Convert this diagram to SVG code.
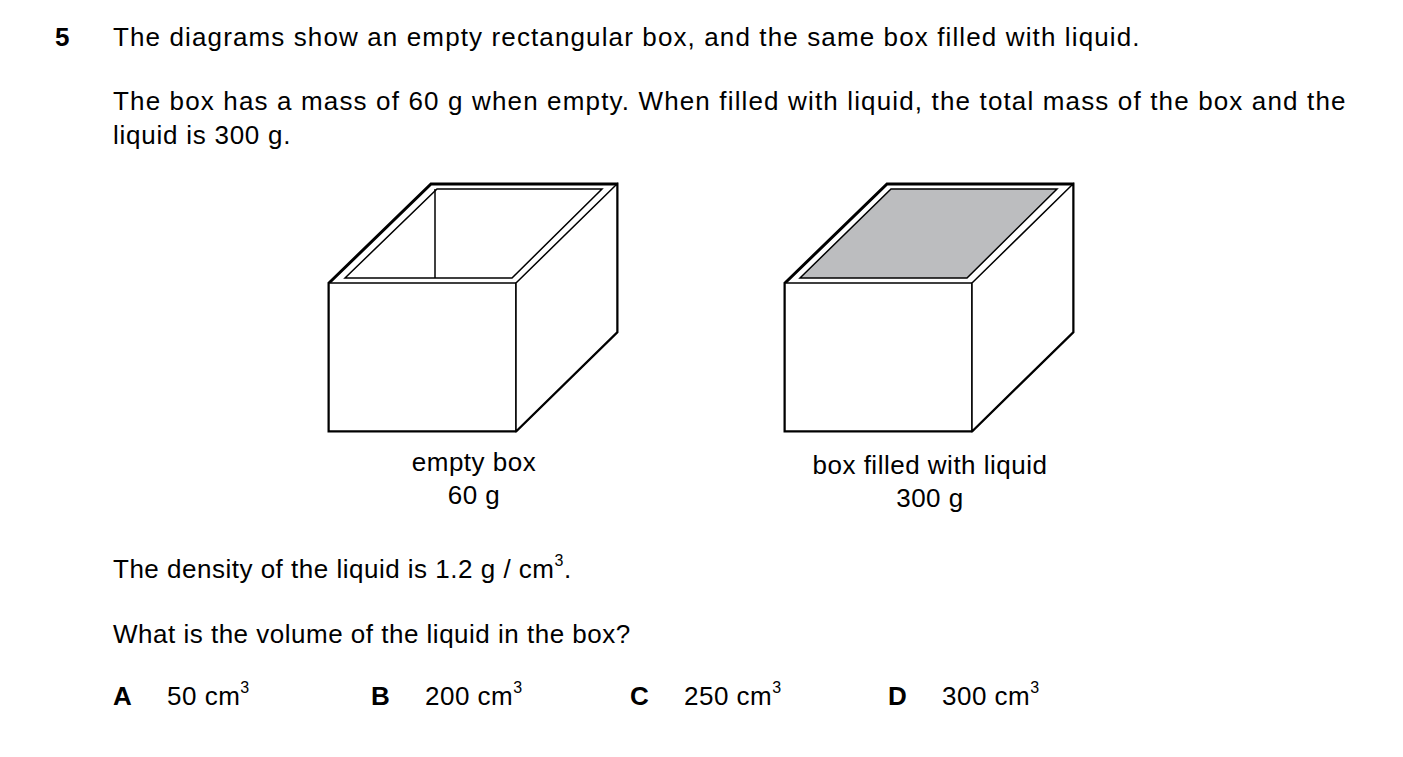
<svg xmlns="http://www.w3.org/2000/svg" width="1403" height="757" viewBox="0 0 1403 757">
<style>
text{font-family:"Liberation Sans",Arial,sans-serif;font-size:26px;fill:#000;letter-spacing:0.5px}
.b{font-weight:bold}
.o{fill:#fff;stroke:#000;stroke-width:3;stroke-linejoin:miter}
.t{fill:none;stroke:#000;stroke-width:1.5}
.f{fill:#fff;stroke:#000;stroke-width:1.5}
.s{font-size:16px}
</style>
<rect width="1403" height="757" fill="#fff"/>
<text x="55" y="46" class="b">5</text>
<text x="113" y="46" textLength="1027" lengthAdjust="spacing">The diagrams show an empty rectangular box, and the same box filled with liquid.</text>
<text x="113" y="110" textLength="1233" lengthAdjust="spacing">The box has a mass of 60 g when empty. When filled with liquid, the total mass of the box and the</text>
<text x="113" y="144" textLength="178" lengthAdjust="spacing">liquid is 300 g.</text>
<g id="empty-box">
<polygon class="o" points="329,283 431,184 617,184 617,332 516,431 329,431"/>
<polygon class="f" points="329,283 516,283 516,431 329,431"/>
<polygon class="f" points="516,283 617,184 617,332 516,431"/>
<polygon class="t" points="345,278 437,189 602,189 512,278"/>
<line class="t" x1="435" y1="189" x2="435" y2="278"/>
<text x="474" y="471" text-anchor="middle">empty box</text>
<text x="474" y="504" text-anchor="middle">60 g</text>
</g>
<g id="filled-box">
<polygon class="o" points="785,283 887,184 1073,184 1073,332 972,431 785,431"/>
<polygon class="f" points="785,283 972,283 972,431 785,431"/>
<polygon class="f" points="972,283 1073,184 1073,332 972,431"/>
<polygon points="800,278 891,189 1057,189 967,278" fill="#bcbdbf" stroke="#000" stroke-width="1.5"/>
<text x="930" y="474" text-anchor="middle">box filled with liquid</text>
<text x="930" y="507" text-anchor="middle">300 g</text>
</g>
<g id="connectors"/>
<text x="113" y="578">The density of the liquid is 1.2 g / cm<tspan class="s" dy="-12">3</tspan><tspan dy="12">.</tspan></text>
<text x="113" y="643">What is the volume of the liquid in the box?</text>
<text x="113" y="705" class="b">A</text>
<text x="167" y="705">50 cm<tspan class="s" dy="-12">3</tspan></text>
<text x="371" y="705" class="b">B</text>
<text x="425" y="705">200 cm<tspan class="s" dy="-12">3</tspan></text>
<text x="630" y="705" class="b">C</text>
<text x="684" y="705">250 cm<tspan class="s" dy="-12">3</tspan></text>
<text x="888" y="705" class="b">D</text>
<text x="942" y="705">300 cm<tspan class="s" dy="-12">3</tspan></text>
</svg>
